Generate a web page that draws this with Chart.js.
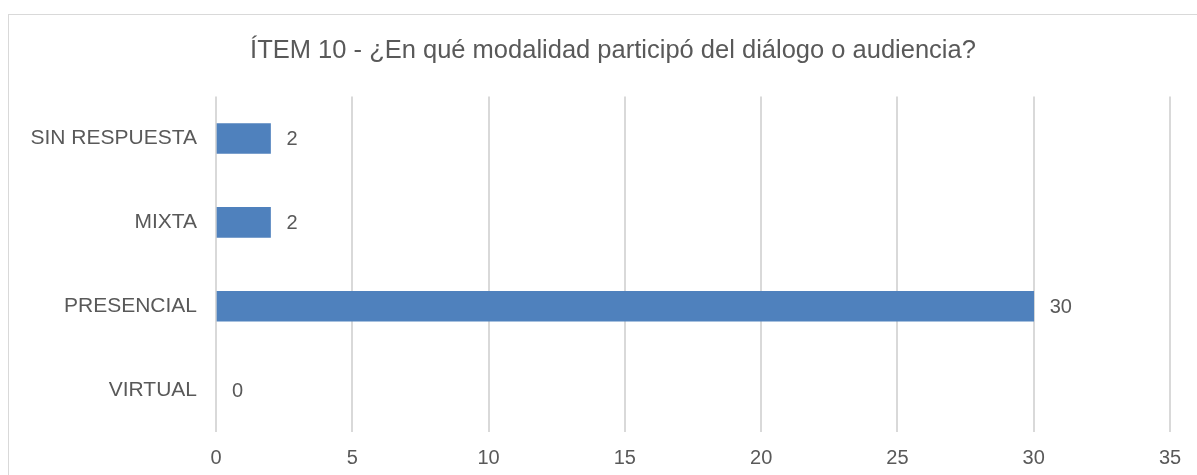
<!DOCTYPE html>
<html>
<head>
<meta charset="utf-8">
<script src="https://cdn.jsdelivr.net/npm/chart.js@4"></script>
<style>
  html, body { margin: 0; padding: 0; background: #fff; overflow: hidden; width: 1197px; height: 475px; }
  #marco { position: absolute; left: 8px; top: 14px; width: 1300px; height: 600px; border: 1px solid #d9d9d9; }
  #wrap { position: absolute; left: 0; top: 0; width: 1226px; height: 475px; }
</style>
</head>
<body>
<div id="marco"></div>
<div id="wrap"><canvas id="grafico"></canvas></div>
<script>
// datos
const categorias = ["SIN RESPUESTA", "MIXTA", "PRESENCIAL", "VIRTUAL"];
const respuestas = [2, 2, 30, 0];
const ticksX = [0, 5, 10, 15, 20, 25, 30, 35];
const titulo = "ÍTEM 10 - ¿En qué modalidad participó del diálogo o audiencia?";

const gris = "#595959";
Chart.defaults.font.family = "'Liberation Sans', Arial, sans-serif";
Chart.defaults.color = gris;

// etiqueta de valor al final de cada barra
const etiquetas = {
    id: "etiquetas",
    afterDatasetsDraw(chart) {
        const ctx = chart.ctx;
        const meta = chart.getDatasetMeta(0);
        ctx.save();
        ctx.font = "20px 'Liberation Sans', Arial, sans-serif";
        ctx.fillStyle = gris;
        ctx.textAlign = "left";
        ctx.textBaseline = "middle";
        meta.data.forEach((bar, i) => {
            ctx.fillText(String(respuestas[i]), bar.x + 16, bar.y + 1);
        });
        ctx.restore();
    }
};

new Chart(document.getElementById("grafico"), {
    type: "bar",
    data: {
        labels: categorias,
        datasets: [{
            data: respuestas,
            // sin barra visible cuando el valor es 0
            backgroundColor: c => (c.raw === 0 ? "rgba(0,0,0,0)" : "#4F81BD"),
            borderWidth: 0,
            barThickness: 30
        }]
    },
    options: {
        indexAxis: "y",
        responsive: true,
        maintainAspectRatio: false,
        animation: false,
        layout: { padding: 0 },
        plugins: {
            legend: { display: false },
            tooltip: { enabled: false },
            title: {
                display: true,
                text: titulo,
                color: gris,
                font: { size: 25.5, weight: "normal" },
                padding: { top: 36, bottom: 30 }
            }
        },
        scales: {
            x: {
                min: 0,
                max: 35,
                afterBuildTicks: s => { s.ticks = ticksX.map(v => ({ value: v })); },
                afterFit: s => { s.height = 43; },
                grid: { color: "#d9d9d9", lineWidth: 2, drawTicks: false },
                border: { display: false },
                ticks: { padding: 14, font: { size: 20 }, color: gris }
            },
            y: {
                afterFit: s => { s.width = 216; },
                grid: { display: false, drawTicks: false },
                border: { display: false },
                ticks: { padding: 19, font: { size: 21 }, color: gris }
            },
            // margen derecho vacio
            derecha: {
                type: "category",
                position: "right",
                afterFit: s => { s.width = 56; },
                grid: { display: false, drawTicks: false },
                border: { display: false },
                ticks: { display: false }
            }
        }
    },
    plugins: [etiquetas]
});
</script>
</body>
</html>
